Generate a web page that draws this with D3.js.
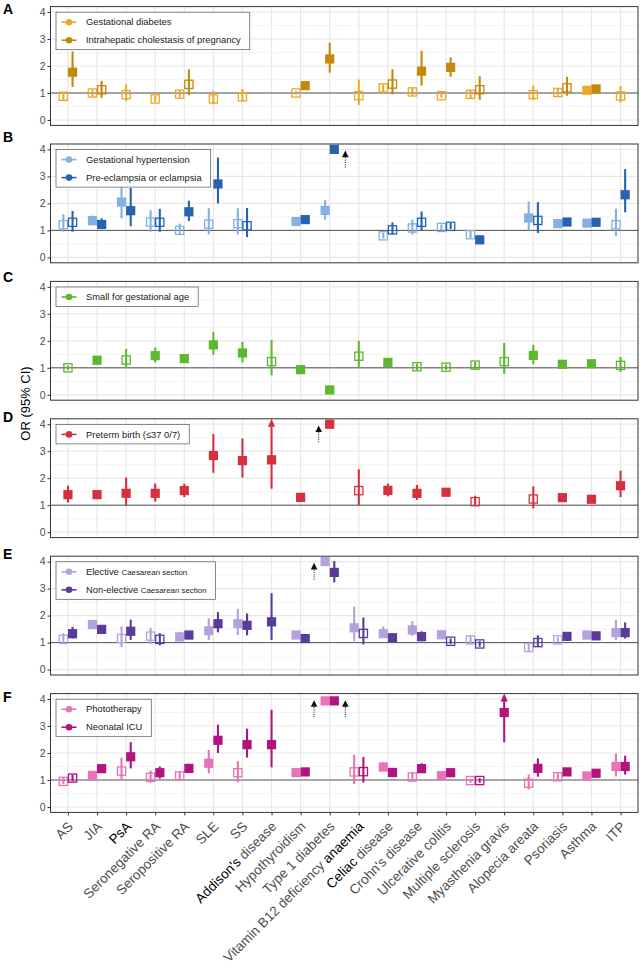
<!DOCTYPE html>
<html><head><meta charset="utf-8">
<script src="https://cdn.jsdelivr.net/npm/d3@7"></script>
<style>
body{margin:0;background:#fff}
svg{display:block;font-family:"Liberation Sans",Arial,Helvetica,sans-serif}
text{white-space:pre}
</style>
</head><body>
<svg id="chart" width="641" height="969"></svg>
<script>
// ---------------- DATA ----------------
const categories = ["AS","JIA","PsA","Seronegative RA","Seropositive RA","SLE","SS","Addison's disease","Hypothyroidism","Type 1 diabetes","Vitamin B12 deficiency anaemia","Celiac disease","Crohn's disease","Ulcerative colitis","Multiple sclerosis","Myasthenia gravis","Alopecia areata","Psoriasis","Asthma","ITP"];
const blackWords = ["PsA","Addison's","anaemia","Celiac"];
const yTicks = [0,1,2,3,4];
const yMinor = [0.5,1.5,2.5,3.5];
const panelLetters = ["A","B","C","D","E","F"];

// each entry: [OR, lower CI, upper CI, significant(1=filled)] ; null = not estimated
const gestationalDiabetes = [[0.88,0.75,1.02,0],[1.0,0.86,1.12,0],[0.94,0.7,1.32,0],[0.78,0.68,0.9,0],[0.96,0.85,1.1,0],[0.78,0.58,1.08,0],[0.86,0.68,1.15,0],null,[1.0,0.94,1.07,0],null,[0.9,0.55,1.5,0],[1.19,0.98,1.32,0],[1.04,0.9,1.2,0],[0.9,0.82,1.0,0],[0.95,0.82,1.1,0],null,[0.94,0.75,1.28,0],[1.02,0.9,1.15,0],[1.1,1.05,1.16,1],[0.89,0.65,1.25,0]];
const cholestasis = [[1.77,1.22,2.54,1],[1.12,0.82,1.45,0],null,null,[1.32,0.92,1.87,0],null,null,null,[1.27,1.2,1.34,1],[2.26,1.75,2.86,1],null,[1.33,0.95,1.88,0],[1.81,1.27,2.56,1],[1.95,1.6,2.32,1],[1.12,0.75,1.62,0],null,null,[1.19,0.9,1.6,0],[1.15,1.1,1.2,1],null];
const gestHypertension = [[1.21,0.95,1.6,0],[1.36,1.25,1.55,1],[2.05,1.45,2.7,1],[1.31,0.95,1.75,0],[1.0,0.85,1.25,0],[1.23,0.85,1.82,0],[1.25,0.85,1.82,0],null,[1.33,1.27,1.4,1],[1.74,1.4,2.12,1],null,[0.8,0.7,0.92,0],[1.09,0.85,1.4,0],[1.11,1.0,1.22,0],[0.84,0.7,1.0,0],null,[1.46,1.0,2.07,1],[1.25,1.15,1.4,1],[1.27,1.22,1.32,1],[1.21,0.8,1.8,0]];
const preEclampsia = [[1.3,0.95,1.72,0],[1.22,1.05,1.45,1],[1.73,1.15,2.57,1],[1.3,0.95,1.8,0],[1.69,1.35,2.1,1],[2.72,2.0,3.7,1],[1.17,0.75,1.83,0],null,[1.4,1.33,1.47,1],[4.0,4.0,4.0,1],null,[1.02,0.85,1.3,0],[1.3,1.0,1.7,0],[1.15,1.05,1.27,0],[0.65,0.55,0.8,1],null,[1.37,0.9,2.05,0],[1.31,1.2,1.45,1],[1.3,1.25,1.36,1],[2.32,1.67,3.27,1]];
const smallForGA = [[1.0,0.92,1.08,0],[1.28,1.22,1.34,1],[1.29,1.0,1.7,0],[1.45,1.2,1.75,1],[1.34,1.2,1.5,1],[1.85,1.48,2.33,1],[1.55,1.2,1.96,1],[1.23,0.72,2.03,0],[0.93,0.88,1.0,1],[0.18,0.15,0.21,1],[1.43,1.0,2.0,0],[1.2,1.1,1.32,1],[1.04,0.92,1.15,0],[1.02,0.92,1.12,0],[1.1,0.97,1.22,0],[1.23,0.78,1.92,0],[1.46,1.13,1.85,1],[1.13,1.08,1.18,1],[1.15,1.1,1.2,1],[1.09,0.85,1.4,0]];
const pretermBirth = [[1.39,1.1,1.72,1],[1.39,1.3,1.48,1],[1.44,1.0,2.02,1],[1.44,1.13,1.8,1],[1.54,1.3,1.8,1],[2.84,2.2,3.63,1],[2.65,2.02,3.47,1],[2.68,1.61,4.2,1],[1.29,1.22,1.36,1],[4.0,4.0,4.0,1],[1.54,1.0,2.33,0],[1.55,1.33,1.8,1],[1.44,1.2,1.75,1],[1.48,1.4,1.56,1],[1.13,1.0,1.35,0],null,[1.23,0.88,1.7,0],[1.28,1.2,1.38,1],[1.22,1.16,1.28,1],[1.72,1.3,2.28,1]];
const electiveCS = [[1.12,0.95,1.35,0],[1.67,1.55,1.8,1],[1.15,0.83,1.6,0],[1.24,0.95,1.55,0],[1.21,1.1,1.4,1],[1.44,1.1,1.9,1],[1.7,1.28,2.25,1],null,[1.28,1.2,1.36,1],[4.0,4.0,4.0,1],[1.55,1.05,2.33,1],[1.33,1.2,1.6,1],[1.47,1.25,1.8,1],[1.29,1.2,1.38,1],[1.1,0.95,1.25,0],null,[0.82,0.65,1.0,0],[1.1,1.0,1.2,0],[1.28,1.22,1.34,1],[1.37,1.1,1.85,1]];
const nonElectiveCS = [[1.33,1.15,1.58,1],[1.49,1.38,1.6,1],[1.42,1.1,1.85,1],[1.12,0.9,1.35,0],[1.28,1.2,1.38,1],[1.7,1.38,2.13,1],[1.64,1.27,2.08,1],[1.77,1.1,2.83,1],[1.15,1.1,1.2,1],[3.6,3.23,4.02,1],[1.34,0.93,1.93,0],[1.18,1.05,1.33,1],[1.22,1.05,1.42,1],[1.05,0.95,1.15,0],[0.95,0.85,1.05,0],null,[1.0,0.85,1.27,0],[1.23,1.17,1.29,1],[1.25,1.2,1.3,1],[1.37,1.15,1.75,1]];
const phototherapy = [[0.95,0.85,1.1,0],[1.17,1.1,1.24,1],[1.33,1.0,1.83,0],[1.1,0.9,1.35,0],[1.15,1.0,1.3,0],[1.62,1.25,2.12,1],[1.27,0.92,1.7,0],null,[1.27,1.22,1.32,1],[3.93,3.93,3.93,1],[1.3,0.85,1.93,0],[1.48,1.35,1.67,1],[1.11,0.95,1.3,0],[1.16,1.1,1.22,1],[0.98,0.9,1.05,0],null,[0.88,0.65,1.2,0],[1.12,1.0,1.25,0],[1.15,1.1,1.2,1],[1.5,1.13,1.98,1]];
const neonatalICU = [[1.07,0.95,1.2,0],[1.42,1.35,1.5,1],[1.86,1.43,2.4,1],[1.27,1.05,1.5,1],[1.43,1.3,1.6,1],[2.47,2.0,3.05,1],[2.31,1.83,2.9,1],[2.31,1.47,3.6,1],[1.3,1.25,1.35,1],[3.93,3.93,3.93,1],[1.31,0.9,1.85,0],[1.28,1.2,1.4,1],[1.42,1.27,1.62,1],[1.27,1.2,1.35,1],[0.98,0.9,1.07,0],[3.5,2.4,4.2,1],[1.43,1.12,1.8,1],[1.3,1.24,1.36,1],[1.25,1.2,1.3,1],[1.5,1.2,1.9,1]];

// off-scale estimates marked with a black dotted arrow: panel index, series index, category index, side
const offScaleMarks = [[1,1,9,1],[3,0,9,-1],[4,0,9,-1],[5,0,9,-1],[5,1,9,1]];

const panels = [
  {series:[{name:"Gestational diabetes",color:"#EBA928",data:gestationalDiabetes},{name:"Intrahepatic cholestasis of pregnancy",color:"#C4890C",data:cholestasis}]},
  {series:[{name:"Gestational hypertension",color:"#84B0E2",data:gestHypertension},{name:"Pre-eclampsia or eclampsia",color:"#2563B1",data:preEclampsia}]},
  {series:[{name:"Small for gestational age",color:"#5CB82E",data:smallForGA}]},
  {series:[{name:"Preterm birth (\u226437 0/7)",color:"#D6303F",data:pretermBirth}]},
  {series:[{name:"Elective |Caesarean section",color:"#B3A2DE",data:electiveCS},{name:"Non-elective |Caesarean section",color:"#5B3B9A",data:nonElectiveCS}]},
  {series:[{name:"Phototherapy",color:"#E773B9",data:phototherapy},{name:"Neonatal ICU",color:"#B3137F",data:neonatalICU}]}
];

// ---------------- LAYOUT ----------------
const W = 641, H = 969;
const L = 50.5, R = 638, top0 = 6.6, stepY = 137.4, ph = 118.8;
const letterY = [14, 142, 282, 421.5, 558.5, 702];
const dodge = 4.6;

const svg = d3.select("#chart");
svg.append("rect").attr("width", W).attr("height", H).attr("fill", "#fff");

const x = d3.scalePoint().domain(categories).range([L, R]).padding(0.6);

panels.forEach((p, pi) => {
  const t = top0 + pi * stepY;
  const y = d3.scaleLinear().domain([-0.2, 4.2]).range([t + ph, t]);
  const g = svg.append("g");

  // grid
  g.selectAll(".mn").data(yMinor).join("line")
    .attr("x1", L).attr("x2", R).attr("y1", d => y(d)).attr("y2", d => y(d))
    .attr("stroke", "#ececec").attr("stroke-width", 0.6);
  g.selectAll(".mj").data(yTicks).join("line")
    .attr("x1", L).attr("x2", R).attr("y1", d => y(d)).attr("y2", d => y(d))
    .attr("stroke", "#e8e8e8").attr("stroke-width", 1.2);
  g.selectAll(".vx").data(categories).join("line")
    .attr("x1", d => x(d)).attr("x2", d => x(d)).attr("y1", t).attr("y2", t + ph)
    .attr("stroke", "#e8e8e8").attr("stroke-width", 1.2);

  // reference line at OR = 1
  g.append("line").attr("x1", L).attr("x2", R).attr("y1", y(1)).attr("y2", y(1))
    .attr("stroke", pi === 5 ? "#8f8f8f" : "#555").attr("stroke-width", pi === 5 ? 1.7 : 1);

  // points
  const ns = p.series.length;
  categories.forEach((c, ci) => {
    const present = p.series.map(s => s.data[ci] != null);
    const count = present.filter(Boolean).length;
    p.series.forEach((s, si) => {
      const d = s.data[ci];
      if (!d) return;
      const [or, lo, hi, sig] = d;
      const off = count === 2 ? (si === 0 ? -dodge : dodge) : 0;
      const cx = x(c) + off;
      const capped = hi >= 4.2;
      const yHi = capped ? y(4.2) + 7 : y(hi);
      if (hi - lo > 0.001) {
        g.append("line").attr("x1", cx).attr("x2", cx).attr("y1", y(lo)).attr("y2", yHi)
          .attr("stroke", s.color).attr("stroke-width", 2.1);
      }
      if (capped) {
        g.append("path").attr("d", `M${cx - 3.6},${y(4.2) + 8}L${cx + 3.6},${y(4.2) + 8}L${cx},${y(4.2)}Z`)
          .attr("fill", s.color);
      }
      if (sig) {
        g.append("rect").attr("x", cx - 4.6).attr("y", y(or) - 4.6).attr("width", 9.2).attr("height", 9.2)
          .attr("fill", s.color);
      } else {
        g.append("rect").attr("x", cx - 4.1).attr("y", y(or) - 4.1).attr("width", 8.2).attr("height", 8.2)
          .attr("fill", "none").attr("stroke", s.color).attr("stroke-width", 1.3);
      }
    });
  });

  // off-scale arrows
  offScaleMarks.filter(m => m[0] === pi).forEach(m => {
    const [, si, ci, side] = m;
    const count = p.series.filter(s => s.data[ci] != null).length;
    const off = count === 2 ? (si === 0 ? -dodge : dodge) : 0;
    const ax = x(categories[ci]) + off + side * 11;
    const y4 = y(4);
    g.append("path").attr("d", `M${ax - 3.3},${y4 + 7.8}L${ax + 3.3},${y4 + 7.8}L${ax},${y4 + 1.2}Z`).attr("fill", "#111");
    g.append("line").attr("x1", ax).attr("x2", ax).attr("y1", y4 + 8).attr("y2", y4 + 19)
      .attr("stroke", "#111").attr("stroke-width", 1).attr("stroke-dasharray", "1,1.3");
  });

  // frame
  g.append("rect").attr("x", L).attr("y", t).attr("width", R - L).attr("height", ph)
    .attr("fill", "none").attr("stroke", "#333").attr("stroke-width", 1);

  // y axis
  const ax = g.append("g").attr("transform", `translate(${L},0)`)
    .call(d3.axisLeft(y).tickValues(yTicks).tickSize(3).tickPadding(2).tickFormat(d3.format("d")));
  ax.select(".domain").remove();
  ax.selectAll(".tick line").attr("stroke", "#333").attr("stroke-width", 1);
  ax.selectAll(".tick text").attr("fill", "#4d4d4d").attr("font-size", 10.5)
    .attr("font-family", "'Liberation Sans',Arial,sans-serif");

  // legend
  const lg = g.append("g");
  const lx = 56, ly = t + 5.6;
  const box = lg.append("rect").attr("x", lx).attr("y", ly).attr("height", 18 * ns + 1.5)
    .attr("fill", "#fff").attr("stroke", "#555").attr("stroke-width", 0.7);
  let maxEnd = 0;
  p.series.forEach((s, si) => {
    const iy = ly + 10 + si * 18;
    lg.append("line").attr("x1", lx + 5.5).attr("x2", lx + 20.5).attr("y1", iy).attr("y2", iy)
      .attr("stroke", s.color).attr("stroke-width", 1.6);
    lg.append("circle").attr("cx", lx + 13).attr("cy", iy).attr("r", 3.3).attr("fill", s.color);
    const parts = s.name.split("|");
    const tx = lg.append("text").attr("x", lx + 30).attr("y", iy).attr("dy", "0.35em")
      .attr("font-size", 9.4).attr("fill", "#1a1a1a");
    tx.append("tspan").text(parts[0]);
    if (parts[1]) tx.append("tspan").attr("font-size", 7.9).text(parts[1]);
    maxEnd = Math.max(maxEnd, lx + 30 + tx.node().getComputedTextLength());
  });
  box.attr("width", maxEnd + 9 - lx);

  // panel letter
  svg.append("text").attr("x", 3).attr("y", letterY[pi]).attr("font-weight", "bold")
    .attr("font-size", 14).attr("fill", "#000").text(panelLetters[pi]);

  // x axis on last panel
  if (pi === panels.length - 1) {
    const xa = g.append("g").attr("transform", `translate(0,${t + ph})`)
      .call(d3.axisBottom(x).tickSize(3).tickFormat(""));
    xa.select(".domain").remove();
    xa.selectAll(".tick line").attr("stroke", "#333").attr("stroke-width", 1);
    categories.forEach(c => {
      const tt = g.append("text")
        .attr("transform", `translate(${x(c) - 1},${t + ph + 8}) rotate(-45)`)
        .attr("text-anchor", "end").attr("dy", "0.72em").attr("font-size", 13.5);
      const words = c.split(" ");
      words.forEach((w, wi) => {
        tt.append("tspan").attr("fill", blackWords.includes(w) ? "#000" : "#4d4d4d")
          .text(w + (wi < words.length - 1 ? " " : ""));
      });
    });
  }
});

// y-axis title
svg.append("text").attr("transform", "translate(30,403.5) rotate(-90)")
  .attr("text-anchor", "middle").attr("font-size", 13).attr("fill", "#000").text("OR (95% CI)");
</script>
</body></html>
